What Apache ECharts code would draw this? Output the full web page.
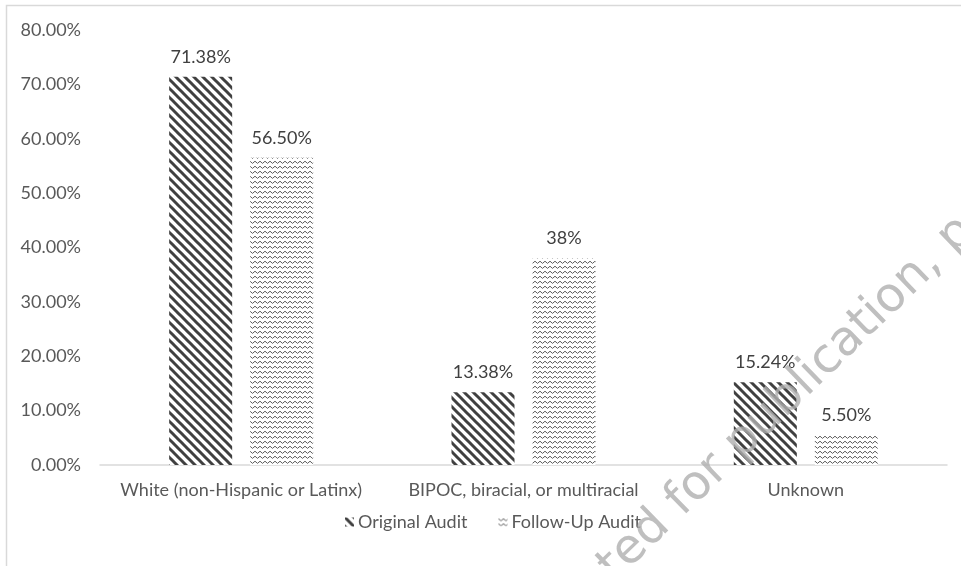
<!DOCTYPE html>
<html>
<head>
<meta charset="utf-8">
<script src="https://cdn.jsdelivr.net/npm/echarts@6/dist/echarts.min.js"></script>
<style>
html,body{margin:0;padding:0;background:#fff;}
#chart{width:961px;height:566px;}
</style>
</head>
<body>
<div id="chart"></div>
<script>
// ---- data ----
const categories = ['White (non-Hispanic or Latinx)', 'BIPOC, biracial, or multiracial', 'Unknown'];
const seriesNames = ['Original Audit', 'Follow-Up Audit'];
const originalValues = [71.38, 13.38, 15.24];
const followUpValues = [56.50, 38, 5.50];
const originalLabels = ['71.38%', '13.38%', '15.24%'];
const followUpLabels = ['56.50%', '38%', '5.50%'];
const yTicks = [0, 10, 20, 30, 40, 50, 60, 70, 80];

// ---- patterns ----
function stripePattern() {
  const s = 9;
  const c = document.createElement('canvas');
  c.width = s; c.height = s;
  const g = c.getContext('2d');
  g.fillStyle = '#ffffff'; g.fillRect(0, 0, s, s);
  g.strokeStyle = '#404040'; g.lineWidth = 3;
  for (let k = -1; k <= 1; k++) {
    g.beginPath(); g.moveTo(k * s - 2, -2); g.lineTo(k * s + s + 2, s + 2); g.stroke();
  }
  return c;
}
function wavePattern() {
  const c = document.createElement('canvas');
  c.width = 10; c.height = 5;
  const g = c.getContext('2d');
  g.fillStyle = '#ffffff'; g.fillRect(0, 0, 10, 5);
  g.strokeStyle = '#606060'; g.lineWidth = 1;
  g.beginPath();
  g.moveTo(0, 1.2); g.lineTo(2.5, 3.4); g.lineTo(5, 1.2); g.lineTo(7.5, 3.4); g.lineTo(10, 1.2);
  g.stroke();
  return c;
}
const stripeFill = { image: stripePattern(), repeat: 'repeat' };
const waveFill = { image: wavePattern(), repeat: 'repeat' };

const FONT = 'Lato, "Open Sans", sans-serif';
const chart = echarts.init(document.getElementById('chart'), null, { renderer: 'canvas' });

chart.setOption({
  animation: false,
  backgroundColor: '#ffffff',
  grid: { left: 100, right: 14, top: 30, bottom: 101, containLabel: false },
  legend: {
    data: seriesNames,
    bottom: 30,
    left: 340,
    itemWidth: 9, itemHeight: 9, itemGap: 31,
    icon: 'rect',
    textStyle: { color: '#595959', fontSize: 18, fontFamily: FONT, padding: [0, 0, 0, -1] }
  },
  xAxis: {
    type: 'category',
    data: categories,
    axisLine: { lineStyle: { color: '#d9d9d9', width: 1.5 } },
    axisTick: { show: false },
    axisLabel: { color: '#595959', fontSize: 18, fontFamily: FONT, margin: 16, interval: 0 }
  },
  yAxis: {
    type: 'value',
    min: yTicks[0], max: yTicks[yTicks.length - 1], interval: 10,
    axisLine: { show: false },
    axisTick: { show: false },
    splitLine: { show: false },
    axisLabel: {
      color: '#595959', fontSize: 18, fontFamily: FONT, margin: 19,
      formatter: v => v.toFixed(2) + '%'
    }
  },
  series: [
    {
      name: seriesNames[0], type: 'bar', data: originalValues,
      barWidth: 63, barGap: '28.6%',
      itemStyle: { color: stripeFill },
      label: {
        show: true, position: 'top', distance: 11,
        color: '#404040', fontSize: 18, fontFamily: FONT,
        formatter: p => originalLabels[p.dataIndex]
      }
    },
    {
      name: seriesNames[1], type: 'bar', data: followUpValues,
      barWidth: 63,
      itemStyle: { color: waveFill },
      label: {
        show: true, position: 'top', distance: 11,
        color: '#404040', fontSize: 18, fontFamily: FONT,
        formatter: p => followUpLabels[p.dataIndex]
      }
    }
  ],
  graphic: [
    {
      type: 'rect', silent: true, z: -1,
      shape: { x: 6.5, y: 5.5, width: 1200, height: 1200 },
      style: { fill: 'none', stroke: '#d9d9d9', lineWidth: 1.5 }
    },
    {
      type: 'text', silent: true, z: 100,
      x: 502, y: 674, rotation: 44 * Math.PI / 180,
      style: {
        text: 'Accepted for publication, pending',
        fill: 'rgba(175,175,175,0.8)', font: '48px "DejaVu Sans", sans-serif',
        verticalAlign: 'middle', align: 'left'
      }
    }
  ]
});
</script>
</body>
</html>
